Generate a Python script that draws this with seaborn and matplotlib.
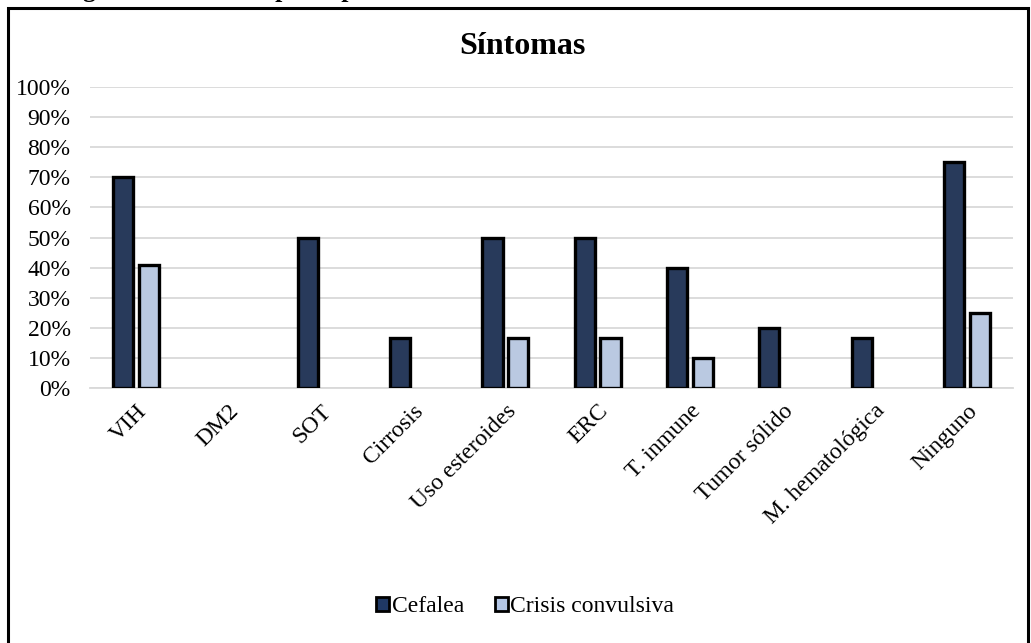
import matplotlib
matplotlib.use("Agg")
import matplotlib.pyplot as plt
import seaborn as sns
import pandas as pd
from matplotlib.patches import Rectangle
from matplotlib.ticker import PercentFormatter

categories = ["VIH", "DM2", "SOT", "Cirrosis", "Uso esteroides", "ERC",
              "T. inmune", "Tumor sólido", "M. hematológica", "Ninguno"]
cefalea = [0.70, 0.0, 0.50, 0.167, 0.50, 0.50, 0.40, 0.20, 0.167, 0.75]
crisis = [0.41, 0.0, 0.0, 0.0, 0.167, 0.167, 0.10, 0.0, 0.0, 0.25]
series_names = ["Cefalea", "Crisis convulsiva"]
colors = ["#1F3864", "#B4C7E7"]
yticks = [i / 10 for i in range(11)]

df = pd.DataFrame({
    "cat": categories * 2,
    "val": cefalea + crisis,
    "serie": [series_names[0]] * len(categories) + [series_names[1]] * len(categories),
})

sns.set_style("white")
plt.rcParams["font.family"] = ["Liberation Serif", "DejaVu Serif"]
plt.rcParams["text.color"] = "black"
plt.rcParams["xtick.color"] = "black"
plt.rcParams["ytick.color"] = "black"

fig = plt.figure(figsize=(10.31, 6.43), dpi=100)
ax = fig.add_axes([90 / 1031, 1 - 388 / 643, (1013 - 90) / 1031, (388 - 87) / 643])

sns.barplot(data=df, x="cat", y="val", hue="serie", palette=colors, ax=ax,
            width=0.56, gap=0.22, edgecolor="black", linewidth=2.4,
            legend=False, errorbar=None, zorder=3)

for p in ax.patches:
    if p.get_height() == 0:
        p.set_visible(False)

ax.set_ylim(0, 1)
ax.set_yticks(yticks)
ax.yaxis.set_major_formatter(PercentFormatter(1.0, decimals=0))
ax.grid(axis="y", color="#D9D9D9", linewidth=1.3, zorder=0)
ax.set_axisbelow(True)
for s in ["top", "right", "left"]:
    ax.spines[s].set_visible(False)
ax.spines["bottom"].set_color("#D9D9D9")
ax.spines["bottom"].set_linewidth(1.3)
ax.set_xlabel("")
ax.set_ylabel("")
ax.tick_params(axis="both", length=0, labelsize=17, labelcolor="black")
ax.tick_params(axis="y", pad=14)
plt.setp(ax.get_xticklabels(), rotation=45, ha="right", rotation_mode="anchor")
ax.tick_params(axis="x", pad=9)

fig.text(522 / 1031, 1 - 46 / 643, "Síntomas", ha="center", va="center",
         fontsize=23, fontweight="bold", color="black")

handles = [Rectangle((0, 0), 1, 1, facecolor=c, edgecolor="black", linewidth=2)
           for c in colors]
fig.legend(handles, series_names, loc="center", bbox_to_anchor=(525 / 1031, 1 - 607 / 643),
           ncol=2, frameon=False, fontsize=17, handlelength=0.55, handleheight=0.55,
           handletextpad=0.1, columnspacing=1.3)

fig.patches.append(Rectangle((8 / 1031, -0.02), (1028 - 8) / 1031, 1 - 8 / 643 + 0.02,
                             transform=fig.transFigure, fill=False,
                             edgecolor="black", linewidth=2.2))

fig.text(60 / 1031, 1 + 3 / 643, "Figura 5. Síntomas principales de acuerdo a comorbilidades",
         ha="left", va="baseline", fontsize=18.5, fontweight="bold", color="black")

fig.savefig("out.png", dpi=100)
